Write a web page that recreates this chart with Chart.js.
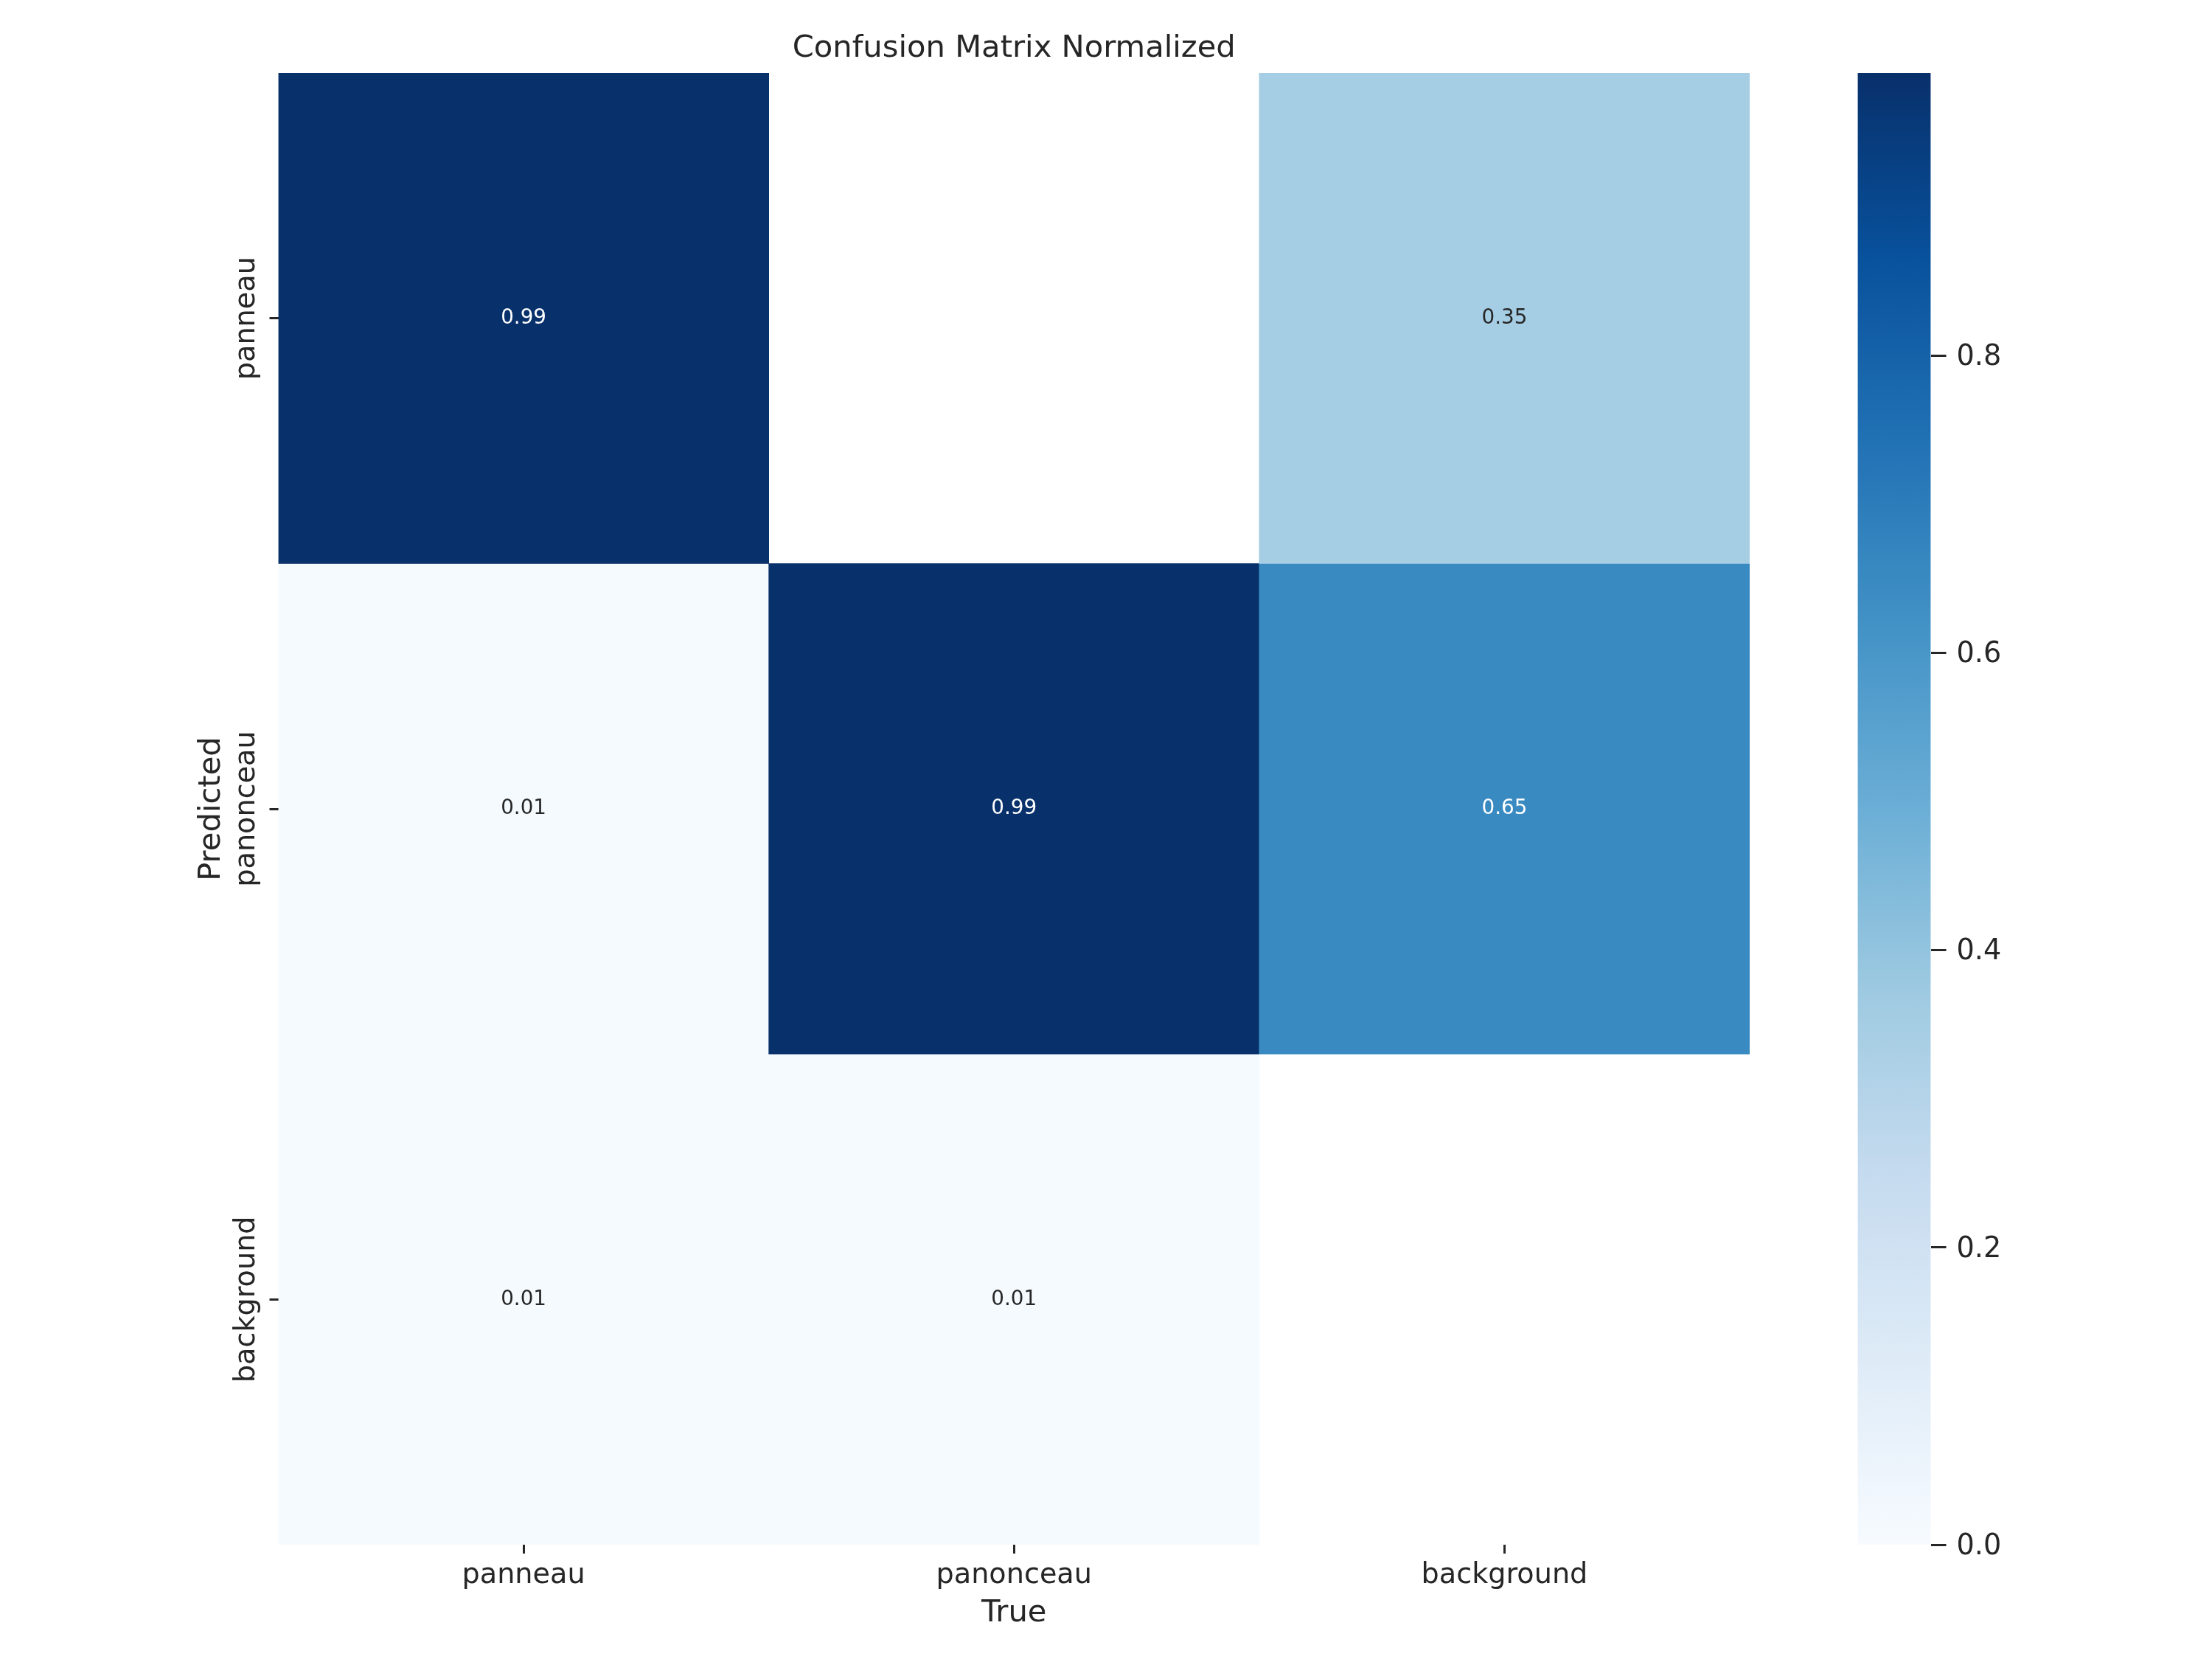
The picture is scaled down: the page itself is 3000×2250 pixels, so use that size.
<!DOCTYPE html>
<html><head><meta charset="utf-8">
<script src="https://cdn.jsdelivr.net/npm/chart.js@4.4.1/dist/chart.umd.min.js"></script>
<style>
html,body{margin:0;padding:0;background:#fff;}
#wrap{position:relative;width:3000px;height:2250px;}
canvas{position:absolute;left:0;top:0;}
</style>
</head><body>
<div id="wrap"><canvas id="cm" width="3000" height="2250"></canvas><canvas id="cb" width="3000" height="2250"></canvas></div>
<script>
// ---- data ----
const trueLabels = ['panneau', 'panonceau', 'background'];
const predictedLabels = ['panneau', 'panonceau', 'background'];
const row_panneau = [0.99, null, 0.35];
const row_panonceau = [0.01, 0.99, 0.65];
const row_background = [0.01, 0.01, null];
const colorbarTicks = [0.0, 0.2, 0.4, 0.6, 0.8];
const titleText = 'Confusion Matrix Normalized';

// ---- helpers ----
const matrix = [row_panneau, row_panonceau, row_background];
const vmax = Math.max(...matrix.flat().filter(v => v != null));
const FONT = "'DejaVu Sans', sans-serif";
const TXT = '#262626';
const BLUES = [[247,251,255],[222,235,247],[198,219,239],[158,202,225],[107,174,214],[66,146,198],[33,113,181],[8,81,156],[8,48,107]];
function blues(t) {
  t = Math.max(0, Math.min(1, t));
  const x = t * 8, i = Math.min(7, Math.floor(x)), f = x - i;
  return BLUES[i].map((c, k) => Math.round(c + (BLUES[i + 1][k] - c) * f));
}
const rgbStr = c => `rgb(${c[0]},${c[1]},${c[2]})`;
function lum(c) {
  const l = c.map(v => { v /= 255; return v <= 0.03928 ? v / 12.92 : Math.pow((v + 0.055) / 1.055, 2.4); });
  return 0.2126 * l[0] + 0.7152 * l[1] + 0.0722 * l[2];
}

// y tick labels are rotated; compensate Chart.js "center" cross alignment
const mctx = document.createElement('canvas').getContext('2d');
mctx.font = `normal 38.19px ${FONT}`;
const widest = Math.max(...predictedLabels.map(s => mctx.measureText(s).width));
const yPad = 30.5 - widest / 2;

const datasets = predictedLabels.map((name, i) => ({
  label: name,
  data: matrix[i].map(v => v == null ? null : [i, i + 1]),
  backgroundColor: matrix[i].map(v => v == null ? 'rgba(0,0,0,0)' : rgbStr(blues(v / vmax))),
  borderWidth: 0,
  barPercentage: 1,
  categoryPercentage: 1,
  grouped: false
}));

const cellText = {
  id: 'cellText',
  afterDatasetsDraw(chart) {
    const ctx = chart.ctx;
    ctx.save();
    ctx.font = `normal 27.78px ${FONT}`;
    ctx.textAlign = 'center';
    ctx.textBaseline = 'middle';
    chart.data.datasets.forEach((ds, i) => {
      chart.getDatasetMeta(i).data.forEach((bar, j) => {
        const v = matrix[i][j];
        if (v == null) return;
        const c = blues(v / vmax);
        ctx.fillStyle = lum(c) > 0.408 ? TXT : '#ffffff';
        ctx.fillText(v.toFixed(2), bar.x, (bar.y + bar.base) / 2);
      });
    });
    ctx.restore();
  }
};

const tickGrid = { display: true, offset: false, drawOnChartArea: false, drawTicks: true, tickLength: 12, tickWidth: 3, tickColor: TXT };

new Chart(document.getElementById('cm'), {
  type: 'bar',
  data: { labels: trueLabels, datasets },
  plugins: [cellText],
  options: {
    responsive: false, devicePixelRatio: 1, animation: false,
    layout: { padding: { left: 0, top: 0, right: 627, bottom: 0 } },
    plugins: {
      legend: { display: false },
      tooltip: { enabled: false },
      title: { display: true, text: titleText, fullSize: false, color: TXT,
        font: { family: FONT, size: 41.67, weight: 'normal' }, padding: { top: 41, bottom: 8 } }
    },
    scales: {
      x: {
        type: 'category', position: 'bottom', offset: true,
        grid: tickGrid, border: { display: false },
        ticks: { font: { family: FONT, size: 38.19 }, color: TXT, padding: 7, minRotation: 0, maxRotation: 0, autoSkip: false },
        title: { display: true, text: 'True', color: TXT, font: { family: FONT, size: 41.67 }, padding: { top: 0, bottom: 37 } },
        afterFit: s => { s.height = 155; }
      },
      y: {
        type: 'linear', position: 'left', min: 0, max: 3, reverse: true,
        afterBuildTicks: s => { s.ticks = predictedLabels.map((_, i) => ({ value: i + 0.5 })); },
        grid: tickGrid, border: { display: false },
        ticks: { callback: (v, idx) => predictedLabels[idx], minRotation: 90, maxRotation: 90, crossAlign: 'center',
          padding: yPad, font: { family: FONT, size: 38.19 }, color: TXT, autoSkip: false },
        title: { display: true, text: 'Predicted', color: TXT, font: { family: FONT, size: 41.67 }, padding: { top: 262.6, bottom: 0 } },
        afterFit: s => { s.width = 377.5; }
      }
    }
  }
});

function cbGradient(context) {
  const chart = context.chart;
  const { ctx, chartArea, scales } = chart;
  if (!chartArea) return 'rgba(0,0,0,0)';
  const y0 = scales.y.getPixelForValue(0), y1 = scales.y.getPixelForValue(vmax);
  const g = ctx.createLinearGradient(0, y0, 0, y1);
  BLUES.forEach((c, k) => g.addColorStop(k / 8, rgbStr(c)));
  return g;
}

new Chart(document.getElementById('cb'), {
  type: 'bar',
  data: { labels: ['colorbar'], datasets: [{ data: [[0, vmax]], backgroundColor: cbGradient, borderWidth: 0, barPercentage: 1, categoryPercentage: 1 }] },
  options: {
    responsive: false, devicePixelRatio: 1, animation: false,
    layout: { padding: { left: 2519.5, top: 99, right: 0, bottom: 155 } },
    plugins: { legend: { display: false }, tooltip: { enabled: false } },
    scales: {
      x: { display: false },
      y: {
        type: 'linear', position: 'right', min: 0, max: vmax,
        afterBuildTicks: s => { s.ticks = colorbarTicks.map(v => ({ value: v })); },
        ticks: { callback: v => Number(v).toFixed(1), font: { family: FONT, size: 38.19 }, color: TXT, padding: 14, labelOffset: 3 },
        grid: { drawOnChartArea: false, drawTicks: true, tickLength: 21, tickWidth: 3, tickColor: TXT },
        border: { display: false },
        afterFit: s => { s.width = 381.5; }
      }
    }
  }
});
</script>
</body></html>
